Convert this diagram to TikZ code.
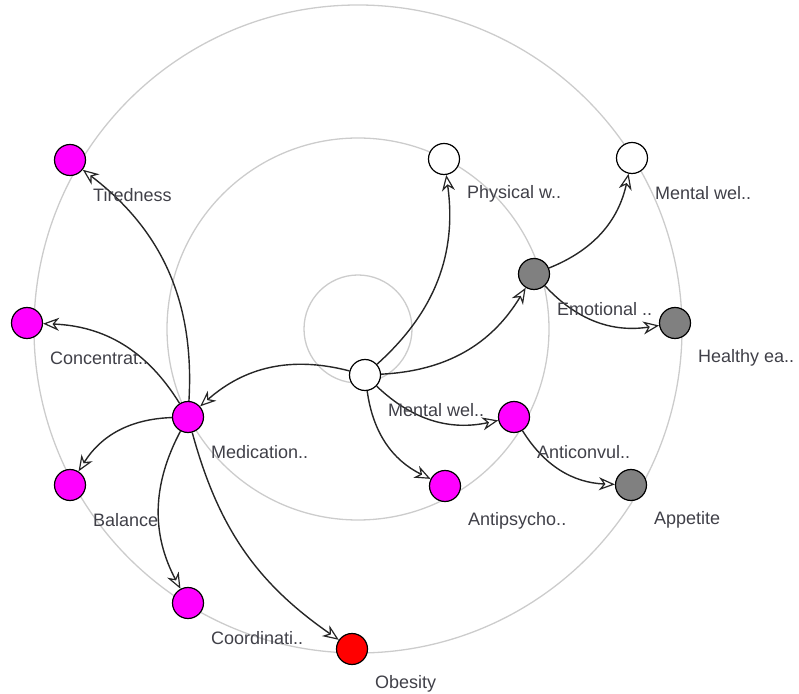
\documentclass[tikz,border=0pt]{standalone}
\usepackage{fontspec}
\setmainfont{Liberation Sans}
\usetikzlibrary{arrows.meta}
\definecolor{ringgrey}{HTML}{CCCCCC}
\definecolor{labelgrey}{HTML}{404048}
\definecolor{nodegrey}{HTML}{808080}
\definecolor{pink}{HTML}{FF00FF}
\tikzset{
  ring/.style={draw=ringgrey, line width=1.3pt},
  concept/.style={circle, draw=black, line width=1.2pt, minimum size=31pt, inner sep=0pt},
  whitenode/.style={concept, fill=white},
  greynode/.style={concept, fill=nodegrey},
  pinknode/.style={concept, fill=pink},
  rednode/.style={concept, fill=red},
  lbl/.style={anchor=west, inner sep=0pt, text=labelgrey, font=\fontsize{18}{20}\selectfont},
  link/.style={draw=black!85, line width=1.4pt, bend right=28,
    -{Stealth[open, length=16pt, width=13pt, inset=5pt, line width=1.2pt]}}
}
\begin{document}
\begin{tikzpicture}[x=1pt, y=1pt]
  \useasboundingbox (0,0) rectangle (799,693);
  % concentric rings
  \coordinate (hub) at (358,364);
  \draw[ring] (hub) circle (54);
  \draw[ring] (hub) circle (191);
  \draw[ring] (hub) circle (324);

  % concepts
  \node[whitenode] (mw)   at (365,318) {};
  \node[whitenode] (phys) at (444,534) {};
  \node[whitenode] (mw2)  at (632,535) {};
  \node[greynode]  (emo)  at (534,419) {};
  \node[greynode]  (heal) at (675,370) {};
  \node[pinknode]  (anti) at (514,276) {};
  \node[greynode]  (app)  at (631,208) {};
  \node[pinknode]  (apsy) at (445,207) {};
  \node[pinknode]  (med)  at (188,276) {};
  \node[pinknode]  (tire) at (70,533) {};
  \node[pinknode]  (conc) at (27,370) {};
  \node[pinknode]  (bal)  at (70,208) {};
  \node[pinknode]  (coord) at (188,90) {};
  \node[rednode]   (obes) at (352,44) {};

  % connectors
  \draw[link] (mw) to (phys);
  \draw[link] (mw) to (emo);
  \draw[link] (mw) to (med);
  \draw[link] (mw) to (anti);
  \draw[link] (mw) to (apsy);
  \draw[link] (emo) to (mw2);
  \draw[link] (emo) to (heal);
  \draw[link] (anti) to (app);
  \draw[link] (med) to (tire);
  \draw[link] (med) to (conc);
  \draw[link] (med) to (bal);
  \draw[link] (med) to (coord);
  \draw[link, bend right=20] (med) to (obes);

  % labels
  \node[lbl] (l-mw)    at ([shift={(23,-35)}]mw.center)   {Mental wel..};
  \node[lbl] (l-phys)  at ([shift={(23,-35)}]phys.center) {Physical w..};
  \node[lbl] (l-mw2)   at ([shift={(23,-35)}]mw2.center)  {Mental wel..};
  \node[lbl] (l-emo)   at ([shift={(23,-35)}]emo.center)  {Emotional ..};
  \node[lbl] (l-heal)  at ([shift={(23,-35)}]heal.center) {Healthy ea..};
  \node[lbl] (l-anti)  at ([shift={(23,-35)}]anti.center) {Anticonvul..};
  \node[lbl] (l-app)   at ([shift={(23,-35)}]app.center)  {Appetite};
  \node[lbl] (l-apsy)  at ([shift={(23,-35)}]apsy.center) {Antipsycho..};
  \node[lbl] (l-med)   at ([shift={(23,-35)}]med.center)  {Medication..};
  \node[lbl] (l-tire)  at ([shift={(23,-35)}]tire.center) {Tiredness};
  \node[lbl] (l-conc)  at ([shift={(23,-35)}]conc.center) {Concentrat..};
  \node[lbl] (l-bal)   at ([shift={(23,-35)}]bal.center)  {Balance};
  \node[lbl] (l-coord) at ([shift={(23,-35)}]coord.center) {Coordinati..};
  \node[lbl] (l-obes)  at ([shift={(23,-35)}]obes.center) {Obesity};
\end{tikzpicture}
\end{document}
